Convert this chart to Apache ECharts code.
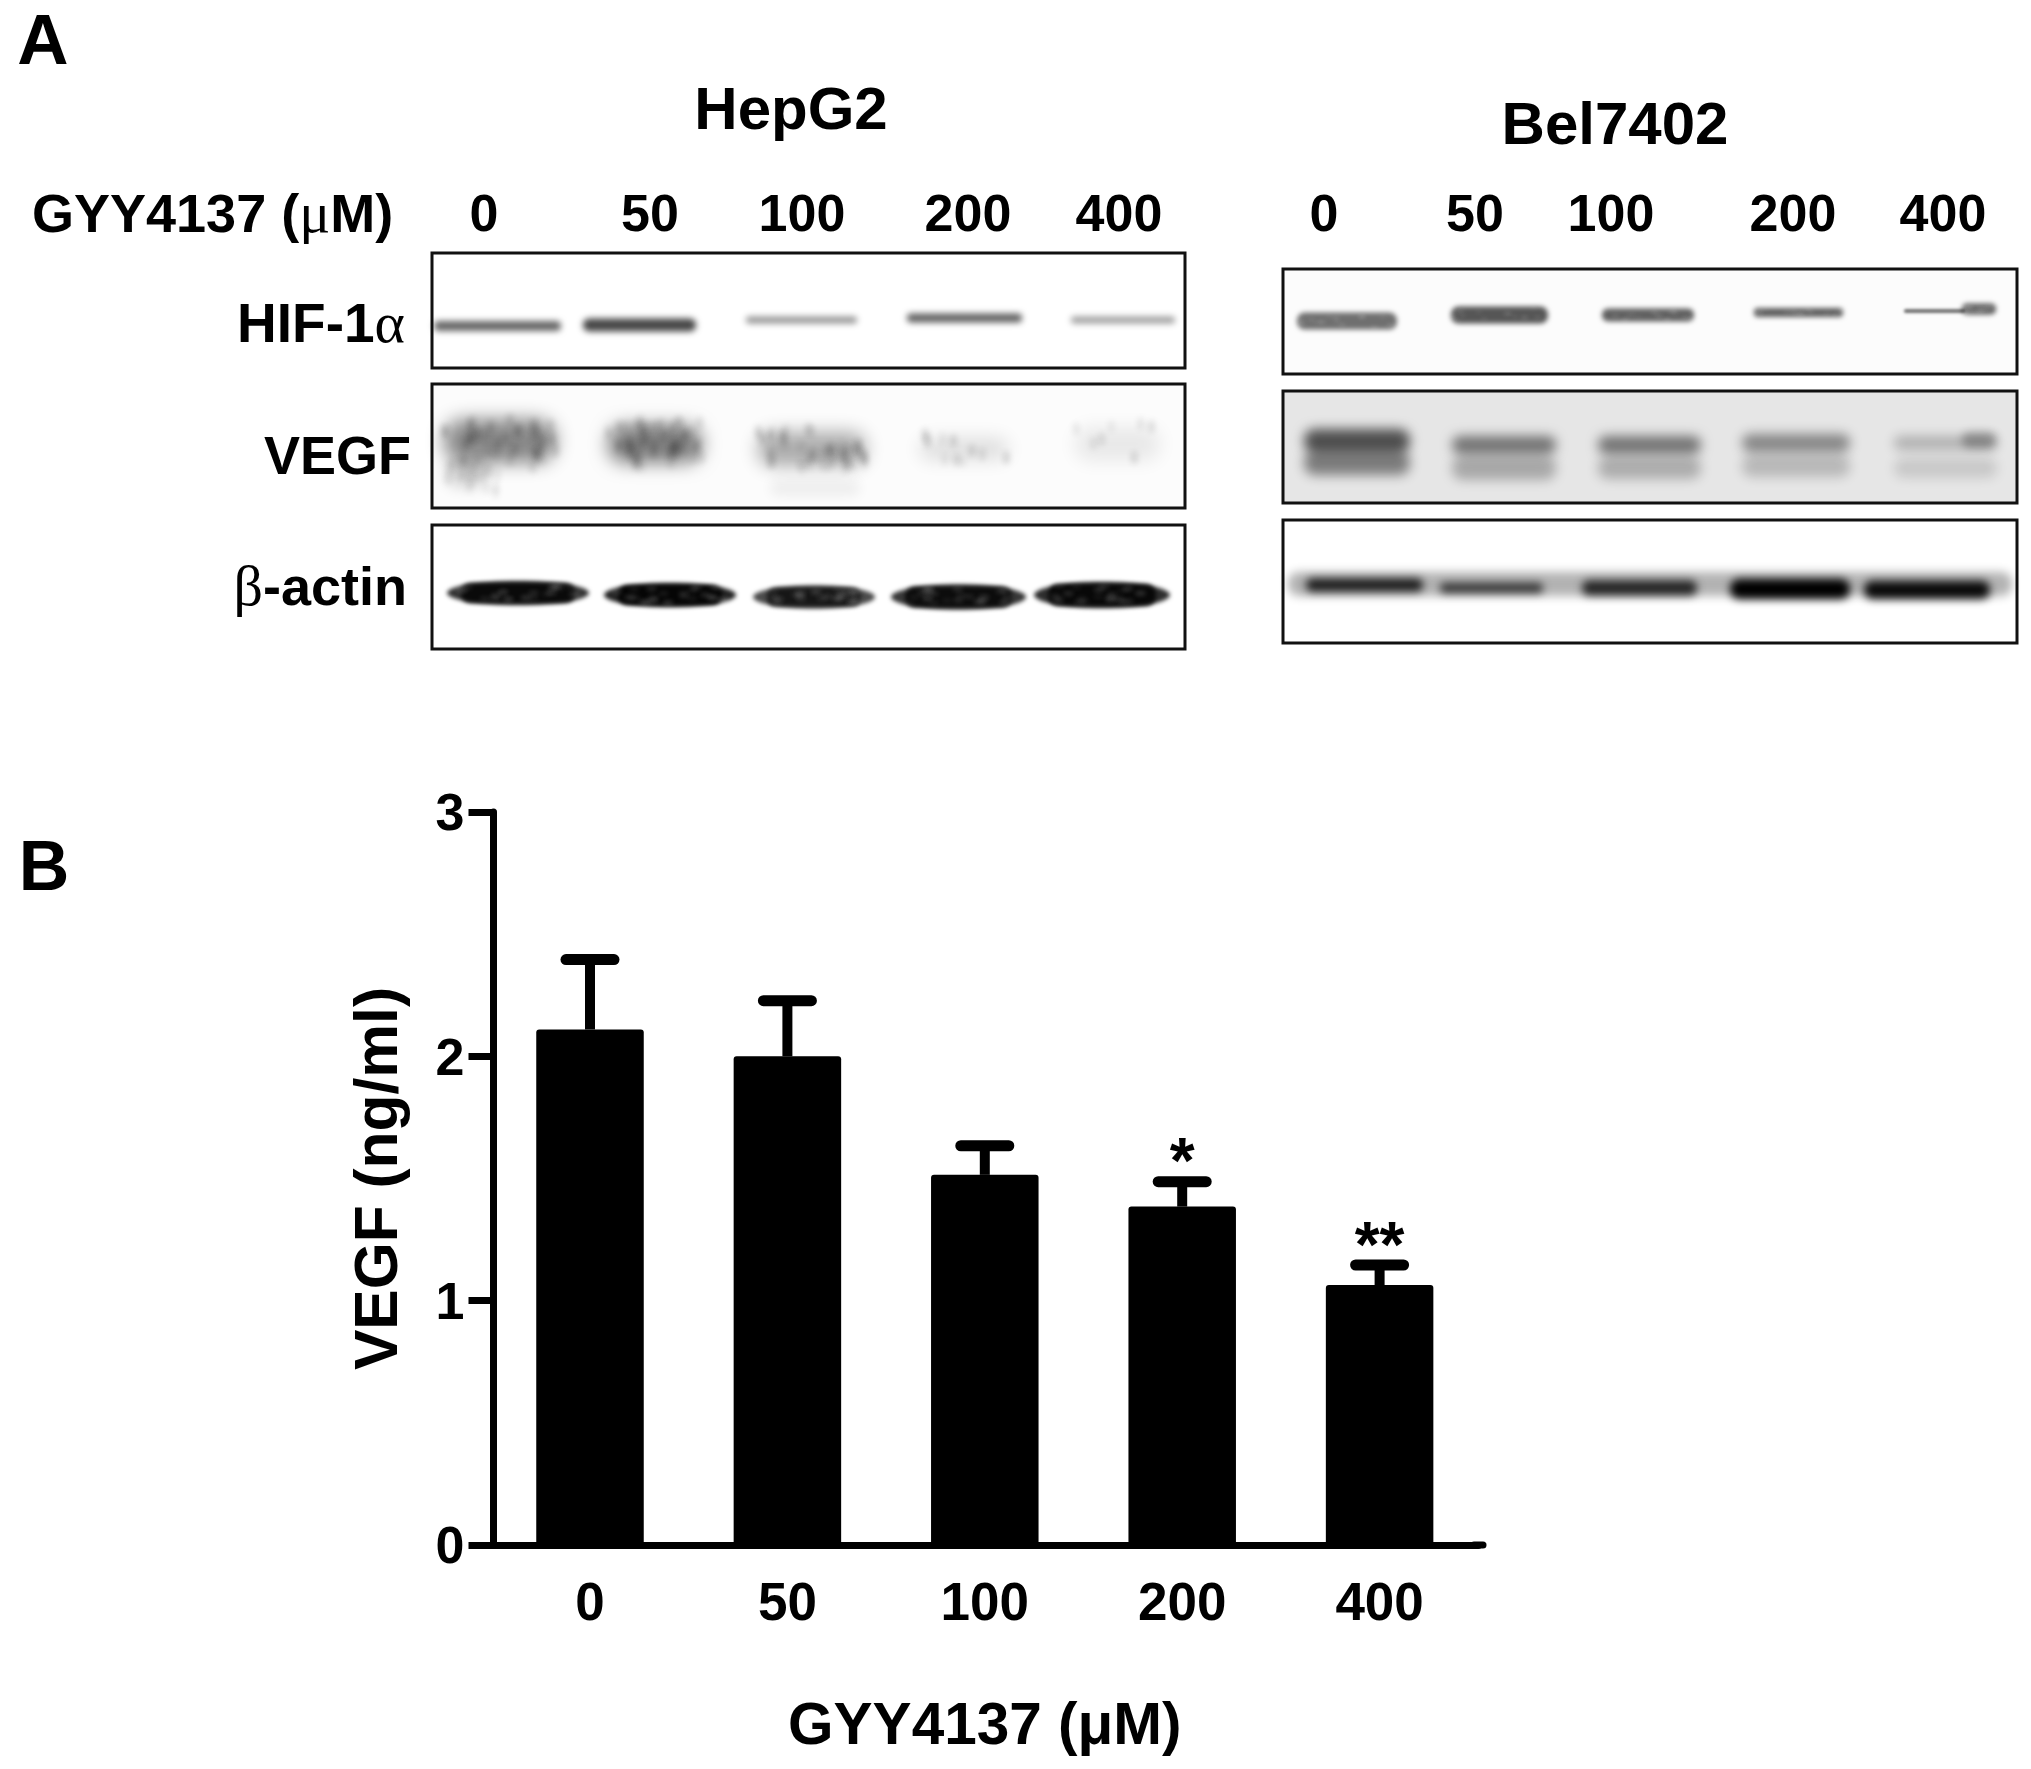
<!DOCTYPE html>
<html><head><meta charset="utf-8">
<style>html,body{margin:0;padding:0;background:#fff}#c{width:2031px;height:1769px}</style>
<script src="https://cdn.jsdelivr.net/npm/echarts@6/dist/echarts.min.js"></script>
</head><body><div id="c"></div>
<script>
// ---------- Panel B data ----------
const doses = ['0','50','100','200','400'];
const vegfMean = [2.11,2.0,1.515,1.385,1.064];
const vegfUpper = [2.396,2.228,1.634,1.487,1.146];
const significance = ['','','','*','**'];
const yTicks = [0,1,2,3];
// ---------- Panel A labels ----------
const panelA = 'A', panelB = 'B';
const cellLines = ['HepG2','Bel7402'];
const rowLabels = ['HIF-1α','VEGF','β-actin'];
// ---------- Panel A band densities (0..1) by lane ----------
const hepHif = [.6,.72,.42,.62,.38];
const hepVegf = [.46,.5,.32,.12,.08];
const hepActin = [.8,.86,.7,.78,.82];
const belHif = [.56,.66,.62,.62,.62];
const belVegfUpper = [.66,.5,.5,.42,.24];
const belVegfLower = [.46,.27,.25,.2,.13];
const belActin = [.85,.72,.8,1,.95];

const FONT = '"Liberation Sans", Arial, sans-serif';
const OFF = 4000;
const els = [];
function blob(x0,x1,cy,h,a,blur,tone){
  els.push({type:'rect',silent:true,z:1,
    shape:{x:x0-OFF,y:cy-h/2,width:x1-x0,height:h,r:h/2.2},
    style:{fill:'#000',shadowColor:'rgba('+(tone||'0,0,0')+','+a+')',shadowBlur:blur,shadowOffsetX:OFF}});
}
function lens(x0,x1,cy,h,a,blur){
  els.push({type:'ellipse',silent:true,z:1,
    shape:{cx:(x0+x1)/2-OFF,cy:cy,rx:(x1-x0)/2,ry:h/2},
    style:{fill:'#000',shadowColor:'rgba(0,0,0,'+a+')',shadowBlur:blur,shadowOffsetX:OFF}});
}
// film grain texture for the blots (a fixed sequence, not chart data)
let seed = 12345;
function next(){ seed = (seed*1103515245+12345)%2147483648; return seed/2147483648; }
function grain(x0,x1,cy,h,n,a,w,hh,tone,blur){
  for(let i=0;i<n;i++){
    const x=x0+next()*(x1-x0), y=cy-h/2+next()*h;
    blob(x-w/2,x+w/2,y,hh,a*(.5+next()),blur||6,tone);
  }
}
function frame(x0,y0,x1,y1,fill){
  els.push({type:'rect',silent:true,z:0,shape:{x:x0,y:y0,width:x1-x0,height:y1-y0},style:{fill:fill||'#fff'}});
  els.push({type:'rect',silent:true,z:3,shape:{x:x0,y:y0,width:x1-x0,height:y1-y0},style:{fill:'none',stroke:'#111',lineWidth:3}});
}
const greek = {fontFamily:'"Liberation Serif"',fontWeight:'normal',fontSize:58,fill:'#000'};
function label(text,x,y,size,align){
  const m = text.match(/[αβμ]/);
  const style = {x:x,y:y,align:align||'center',verticalAlign:'middle',font:'bold '+size+'px '+FONT,fill:'#000'};
  if(m){
    const parts = text.split(m[0]);
    const r = {t:{fontFamily:'"Liberation Sans"',fontWeight:'bold',fontSize:size,fill:'#000'},g:greek};
    style.text = (parts[0]?'{t|'+parts[0]+'}':'')+'{g|'+m[0]+'}'+(parts[1]?'{t|'+parts[1]+'}':'');
    style.rich = r;
  } else style.text = text;
  els.push({type:'text',silent:true,z:4,style});
}
// Layout of the blot panels
const hepHifLanes=[[434,561,326,10],[583,696,325,13],[746,857,320,7],[907,1022,318,9],[1071,1175,320,7]];
const hepVegfLanes=[[444,556,441,44],[608,702,444,38],[758,866,449,34],[920,1008,449,22],[1075,1160,444,34]];
const hepActinLanes=[[447,589,593,24],[604,736,595,24],[753,875,597,23],[891,1026,597,25],[1034,1170,595,26]];
const belHifLanes=[[1297,1397,321,17],[1451,1548,315,17],[1602,1694,315,13],[1754,1843,312.5,9],[1962,1996,309,11]];
const belVegfUp=[[1304,1410,441,24],[1452,1556,445,18],[1598,1701,445,18],[1742,1850,443,18],[1894,1997,443,14]];
const belVegfLow=[[1304,1410,463,24],[1452,1556,468,24],[1598,1701,468,22],[1742,1850,466,22],[1894,1997,468,20]];
const belActinLanes=[[1306,1423,585,13],[1440,1543,588,10],[1582,1697,588,15],[1730,1850,589,20],[1864,1990,590,18]];

frame(432,253,1185,368);
hepHifLanes.forEach((l,i)=>blob(l[0],l[1],l[2],l[3],hepHif[i],6));
frame(432,384,1185,508,'#fcfcfc');
hepVegfLanes.forEach((l,i)=>{blob(l[0],l[1],l[2],l[3],hepVegf[i],18);grain(l[0],l[1],l[2],l[3]+8,Math.round(hepVegf[i]*90),.14,5,12);});
blob(446,490,474,26,.16,14); blob(770,860,488,16,.06,12);
grain(446,500,476,34,14,.08,5,12);
grain(800,865,458,22,14,.1,5,12);
frame(432,525,1185,649);
hepActinLanes.forEach((l,i)=>{lens(l[0],l[1],l[2],l[3],hepActin[i],4);blob(l[0]+14,l[1]-14,l[2],l[3]-4,hepActin[i],4);grain(l[0]+12,l[1]-12,l[2],l[3]-8,22,.14,10,4,'255,255,255',5);});
frame(1283,269,2017,374,'#fcfcfc');
belHifLanes.forEach((l,i)=>{blob(l[0],l[1],l[2],l[3],belHif[i],5);grain(l[0],l[1],l[2],l[3]-2,14,.12,7,3,'255,255,255',4);});
blob(1904,1965,311,4,.55,3);
frame(1283,391,2017,503,'#e6e6e6');
belVegfLow.forEach((l,i)=>blob(l[0],l[1],l[2],l[3],belVegfLower[i],12));
belVegfUp.forEach((l,i)=>blob(l[0],l[1],l[2],l[3],belVegfUpper[i],12));
blob(1962,1996,440,16,.28,9);
frame(1283,520,2017,643);
blob(1288,2012,584,24,.3,10);
belActinLanes.forEach((l,i)=>{blob(l[0],l[1],l[2],l[3],belActin[i],8);});

// Text of panel A
label(panelA,43,44,71); label(panelB,44,871,70);
label(cellLines[0],791,112,60); label(cellLines[1],1615,127,60);
label('GYY4137 (μM)',32,217,54,'left');
[484,650,802,968,1119].forEach((x,i)=>label(doses[i],x,217,52));
[1324,1475,1611,1793,1943].forEach((x,i)=>label(doses[i],x,217,52));
label(rowLabels[0],405,327,55,'right');
label(rowLabels[1],411,459,54,'right');
label(rowLabels[2],407,590,54,'right');
// end of the x axis line past the last band
els.push({type:'line',silent:true,z:2,shape:{x1:1474,y1:1545,x2:1483,y2:1545},style:{stroke:'#000',lineWidth:7,lineCap:'round'}});

const axisFont = {fontFamily:'"Liberation Sans"',fontWeight:'bold',color:'#000'};
const chart = echarts.init(document.getElementById('c'),null,{renderer:'canvas'});
chart.setOption({
  backgroundColor:'#fff',animation:false,
  grid:{left:491.3,right:552.7,top:812,bottom:224,containLabel:false},
  xAxis:{type:'category',data:doses,
    name:'GYY4137 (μM)',nameLocation:'middle',nameGap:153,
    nameTextStyle:{...axisFont,fontSize:58.5},
    axisLine:{lineStyle:{color:'#000',width:7}},axisTick:{show:false},
    axisLabel:{...axisFont,fontSize:53,margin:34},splitLine:{show:false}},
  yAxis:{type:'value',min:0,max:yTicks[yTicks.length-1],interval:1,offset:-2.2,
    name:'VEGF (ng/ml)',nameLocation:'middle',nameGap:83,
    nameTextStyle:{...axisFont,fontSize:60.5},
    axisLine:{show:true,lineStyle:{color:'#000',width:7}},
    axisTick:{show:true,length:25,lineStyle:{color:'#000',width:7}},
    axisLabel:{...axisFont,fontSize:52,margin:29,verticalAlign:'top',lineHeight:8},splitLine:{show:false}},
  graphic:{elements:els},
  series:[
    {type:'bar',data:vegfMean,barWidth:107.5,itemStyle:{color:'#000',borderRadius:[3,3,0,0]},z:3},
    {type:'custom',z:2,data:vegfUpper.map((u,i)=>[i,u,vegfMean[i]]),
      encode:{x:0,y:1},
      renderItem(params,api){
        const i=api.value(0),top=api.coord([i,api.value(1)]),base=api.coord([i,api.value(2)]);
        const line=(x1,y1,x2,y2,w,cap)=>({type:'line',shape:{x1,y1,x2,y2},style:{stroke:'#000',lineWidth:w,lineCap:cap}});
        const ch=[line(top[0],top[1],top[0],base[1],10,'butt'),line(top[0]-24,top[1],top[0]+24,top[1],11,'round')];
        const s=significance[i];
        if(s) ch.push({type:'text',style:{text:s,x:top[0],y:top[1]+16,align:'center',verticalAlign:'bottom',font:'bold 64px "Liberation Sans"',fill:'#000'}});
        return {type:'group',children:ch};
      }}
  ]
});
</script></body></html>
